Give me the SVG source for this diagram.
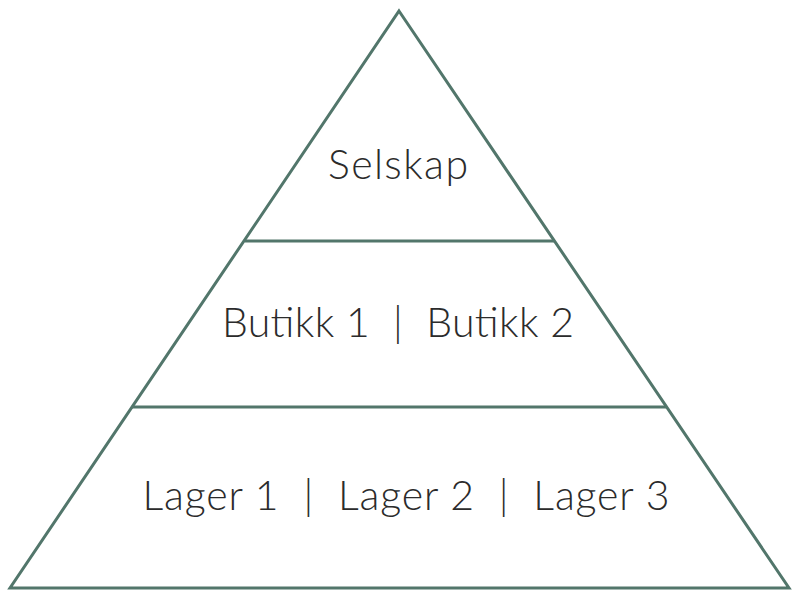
<svg xmlns="http://www.w3.org/2000/svg" width="800" height="604" viewBox="0 0 800 604">
<style>
.s{fill:none;stroke:#52766b;stroke-width:3}
.t{font-family:Lato,"Open Sans",sans-serif;font-weight:300;font-size:41px;fill:#2b2b2b;text-anchor:middle;white-space:pre}
</style>
<rect width="800" height="604" fill="#fff"/>
<g id="pyramid">
<polygon class="s" points="399,11 789,588 10,588"/>
</g>
<g id="connectors">
<line class="s" x1="245" y1="241" x2="554" y2="241"/>
<line class="s" x1="132" y1="407" x2="666" y2="407"/>
</g>
<g id="top"><text class="t" x="398" y="179" textLength="140">Selskap</text></g>
<g id="mid"><text class="t" x="398" y="337" xml:space="preserve" textLength="352">Butikk 1  |  Butikk 2</text></g>
<g id="bottom"><text class="t" x="406" y="510" xml:space="preserve" textLength="527">Lager 1  |  Lager 2  |  Lager 3</text></g>
</svg>
